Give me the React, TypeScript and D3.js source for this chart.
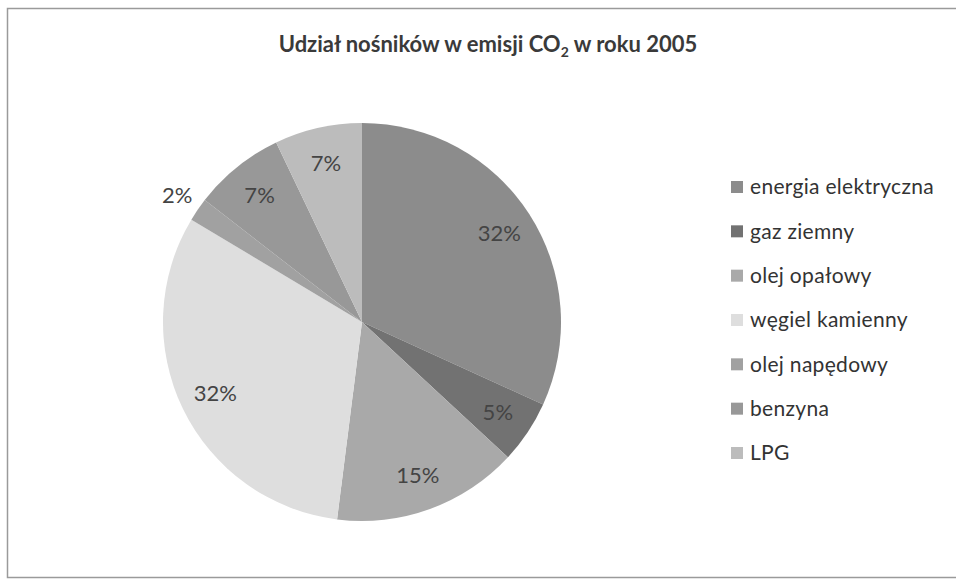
import { useEffect, useRef } from "react";
import * as d3 from "d3";

const categories = [
  "energia elektryczna",
  "gaz ziemny",
  "olej opałowy",
  "węgiel kamienny",
  "olej napędowy",
  "benzyna",
  "LPG",
];
const shares = [31.8, 5.1, 15.1, 31.6, 1.9, 7.4, 7.1];
const greys = ["#8c8c8c", "#727272", "#a9a9a9", "#dedede", "#a1a1a1", "#989898", "#bcbcbc"];
// slices whose label sits outside the pie
const outside = ["olej napędowy"];

const width = 956;
const height = 580;
const cx = 362;
const cy = 322;
const radius = 199;

export default function App() {
  const ref = useRef<SVGSVGElement>(null);

  useEffect(() => {
    const svg = d3.select(ref.current);
    svg.selectAll("*").remove();

    svg
      .append("rect")
      .attr("x", 7.5)
      .attr("y", 8.5)
      .attr("width", width + 10)
      .attr("height", 569)
      .attr("fill", "#fff")
      .attr("stroke", "#9a9a9a")
      .attr("stroke-width", 1.5);

    const title = svg
      .append("text")
      .attr("x", 488)
      .attr("y", 52)
      .attr("text-anchor", "middle")
      .attr("font-family", "Lato, sans-serif")
      .attr("font-weight", "bold")
      .attr("font-size", 22)
      .attr("fill", "#3a3a3a");
    title.append("tspan").text("Udział nośników w emisji CO");
    title.append("tspan").attr("font-size", 14).attr("dy", 5).text("2");
    title.append("tspan").attr("dy", -5).text(" w roku 2005");

    const data = categories.map((c, i) => ({ name: c, value: shares[i], color: greys[i] }));
    const pie = d3
      .pie<{ name: string; value: number; color: string }>()
      .sort(null)
      .value((d) => d.value);
    const arcs = pie(data);
    const arc = d3.arc<d3.PieArcDatum<any>>().innerRadius(0).outerRadius(radius);
    const inLabel = d3.arc<d3.PieArcDatum<any>>().innerRadius(radius * 0.82).outerRadius(radius * 0.82);
    const outLabel = d3.arc<d3.PieArcDatum<any>>().innerRadius(radius + 25).outerRadius(radius + 25);

    const g = svg.append("g").attr("transform", `translate(${cx},${cy})`);
    g.selectAll("path")
      .data(arcs)
      .join("path")
      .attr("d", arc)
      .attr("fill", (d) => d.data.color);

    g.selectAll("text")
      .data(arcs)
      .join("text")
      .attr("transform", (d) => {
        const p = outside.includes(d.data.name) ? outLabel.centroid(d) : inLabel.centroid(d);
        return `translate(${p[0]},${p[1]})`;
      })
      .attr("text-anchor", "middle")
      .attr("dy", "0.35em")
      .attr("font-family", "Lato, sans-serif")
      .attr("font-size", 22)
      .attr("fill", "#444")
      .text((d) => `${Math.round(d.data.value)}%`);

    const y = d3
      .scalePoint<string>()
      .domain(categories)
      .range([187, 453]);
    const legend = svg
      .append("g")
      .selectAll("g")
      .data(data)
      .join("g")
      .attr("transform", (d) => `translate(731,${y(d.name)})`);
    legend
      .append("rect")
      .attr("x", 0)
      .attr("y", -6)
      .attr("width", 12)
      .attr("height", 12)
      .attr("fill", (d) => d.color);
    legend
      .append("text")
      .attr("x", 19)
      .attr("dy", "0.35em")
      .attr("font-family", "Lato, sans-serif")
      .attr("font-size", 21)
      .attr("letter-spacing", 0.3)
      .attr("fill", "#333")
      .text((d) => d.name);
  }, []);

  return (
    <svg
      ref={ref}
      width={width}
      height={height}
      style={{ position: "absolute", left: 0, top: 0, background: "#fff" }}
    />
  );
}
